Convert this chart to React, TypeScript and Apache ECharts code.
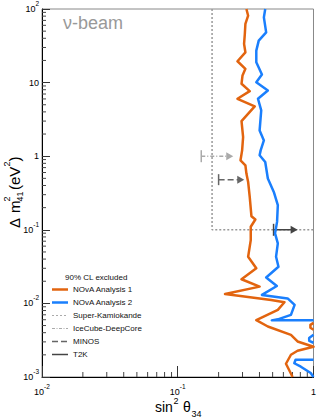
import React, { useEffect, useRef } from 'react';
import * as echarts from 'echarts';

const FONT = '"Liberation Sans", Arial, Helvetica, sans-serif';

// NOvA Analysis 1 (orange) contour, [sin^2 theta34, dm^2_41]
const novaAnalysis1 = [
  [0.3205, 100], [0.33, 81.1], [0.315, 62.6], [0.312, 45.8], [0.308, 33.6], [0.315, 25.8],
  [0.2755, 19.5], [0.315, 15.4], [0.3, 12.5], [0.295, 9.63], [0.339, 7.65], [0.2755, 6.03],
  [0.369, 4.75], [0.295, 3.0], [0.303, 1.82], [0.298, 1.2], [0.29, 0.88], [0.315, 0.753],
  [0.3205, 0.581], [0.33, 0.447], [0.339, 0.28], [0.349, 0.153], [0.373, 0.138], [0.345, 0.11],
  [0.345, 0.0725], [0.33, 0.0431], [0.379, 0.03], [0.295, 0.0213], [0.401, 0.0169],
  [0.223, 0.01345], [0.4875, 0.01115], [0.611, 0.01038], [0.546, 0.00817], [0.379, 0.00592],
  [0.461, 0.00485], [0.682, 0.00374], [0.763, 0.00304], [1.0, 0.002575], [0.763, 0.00227],
  [0.682, 0.002005], [0.627, 0.001514], [0.702, 0.001],
];
const novaAnalysis1Island = [[1.0, 0.00544], [0.949, 0.00511], [0.949, 0.00466], [1.0, 0.00438]];

// NOvA Analysis 2 (blue) contour
const novaAnalysis2 = [
  [0.441, 100], [0.431, 76.9], [0.448, 48.2], [0.395, 37.2], [0.379, 27.2], [0.379, 18.9],
  [0.417, 12.9], [0.379, 10.1], [0.461, 7.82], [0.39, 6.03], [0.412, 4.19], [0.401, 2.24],
  [0.431, 1.64], [0.408, 1.2], [0.401, 1.03], [0.441, 0.835], [0.461, 0.497], [0.51, 0.327],
  [0.546, 0.216], [0.539, 0.128], [0.521, 0.0894], [0.546, 0.0654], [0.53, 0.0431],
  [0.552, 0.0315], [0.448, 0.0225], [0.537, 0.01726], [0.417, 0.01304], [0.645, 0.01169],
  [0.726, 0.00954], [0.682, 0.00699], [0.546, 0.00607], [0.493, 0.00588], [1.0, 0.00588],
];
const novaAnalysis2Island = [[1.0, 0.00374], [0.929, 0.00338], [0.93, 0.0031], [1.0, 0.00292]];
const novaAnalysis2Low = [
  [1.0, 0.001716], [0.738, 0.001716], [0.722, 0.001538], [0.807, 0.00138], [0.954, 0.001133], [1.0, 0.001],
];

// Other experiments
const superK = [[0.179, 100], [0.179, 0.1], [1.0, 0.1]];
const t2k = [[0.508, 0.1], [0.72, 0.1]];
const minos = [[0.2, 0.48], [0.291, 0.48]];
const iceCube = [[0.149, 1.0], [0.2416, 1.0]];

// Axis structure
const decadesX = [0.01, 0.1];
const decadesY = [0.001, 0.01, 0.1, 1, 10];
const minorMultipliers = [2, 3, 4, 5, 6, 7, 8, 9];

const ORANGE = '#e2640f';
const BLUE = '#1a7ffd';

function expLabel(v: number) {
  const e = Math.round(Math.log10(v));
  if (e === 0) return '{b|1}';
  if (e === 1) return '{b|10}';
  return '{b|10}{e|' + e + '}';
}

const labelRich = {
  b: { fontSize: 9, fontFamily: FONT, color: '#000', lineHeight: 18 },
  e: { fontSize: 6.5, fontFamily: FONT, color: '#000', lineHeight: 8, verticalAlign: 'top' },
};

function arrowSeries(name: string, data: number[][], color: string, type: any, barH: number) {
  return {
    name,
    type: 'line',
    showSymbol: true,
    symbol: 'none',
    lineStyle: { color, width: 1.5, type },
    itemStyle: { color },
    z: 4,
    data: [
      { value: data[0], symbol: 'rect', symbolSize: [1.5, barH] },
      { value: data[1], symbol: 'triangle', symbolSize: [8, 7], symbolRotate: -90 },
    ],
  };
}

function minorTickSeries(values: number[], axis: 'x' | 'y', len: number) {
  return {
    type: 'custom',
    silent: true,
    z: 1,
    data: values.map((v) => (axis === 'x' ? [v, 0.001] : [0.01, v])),
    renderItem: (_p: any, api: any) => {
      const pt = api.coord([api.value(0), api.value(1)]);
      const shape =
        axis === 'x'
          ? { x1: pt[0], y1: pt[1], x2: pt[0], y2: pt[1] - len }
          : { x1: pt[0], y1: pt[1], x2: pt[0] + len, y2: pt[1] };
      return { type: 'line', shape, style: { stroke: '#444', lineWidth: 1 } };
    },
  };
}

const legendRows = [
  { label: 'NOvA Analysis 1', color: ORANGE, width: 2.5, dash: null },
  { label: 'NOvA Analysis 2', color: BLUE, width: 2.5, dash: null },
  { label: 'Super-Kamiokande', color: '#aaa', width: 1.2, dash: [2, 2] },
  { label: 'IceCube-DeepCore', color: '#aaa', width: 1.2, dash: [3, 1.5, 1, 1.5] },
  { label: 'MINOS', color: '#666', width: 1.5, dash: [6, 3] },
  { label: 'T2K', color: '#444', width: 1.5, dash: null },
];

export default function App() {
  const ref = useRef<HTMLDivElement>(null);
  useEffect(() => {
    const chart = echarts.init(ref.current!, null, { renderer: 'svg' });

    const minorX: number[] = [];
    decadesX.forEach((d) => minorMultipliers.forEach((m) => minorX.push(d * m)));
    const minorY: number[] = [];
    decadesY.forEach((d) => minorMultipliers.forEach((m) => minorY.push(d * m)));

    const legendGraphics: any[] = [
      {
        type: 'text', x: 65, y: 277,
        style: { text: '90% CL excluded', font: '8px ' + FONT, fill: '#111', verticalAlign: 'middle' },
      },
    ];
    legendRows.forEach((r, i) => {
      const y = 289.5 + i * 13;
      legendGraphics.push({
        type: 'line', shape: { x1: 52, y1: y, x2: 68, y2: y },
        style: { stroke: r.color, lineWidth: r.width, lineDash: r.dash || undefined },
      });
      legendGraphics.push({
        type: 'text', x: 73, y,
        style: { text: r.label, font: '8px ' + FONT, fill: '#111', verticalAlign: 'middle' },
      });
    });

    const option: any = {
      animation: false,
      backgroundColor: '#fff',
      grid: { left: 42, top: 8, width: 274, height: 369, show: true, borderColor: '#888', borderWidth: 1 },
      xAxis: {
        type: 'log', logBase: 10, min: 0.01, max: 1,
        axisLine: { show: true, lineStyle: { color: '#000', width: 1 } },
        axisTick: { show: true, inside: true, length: 11, lineStyle: { color: '#333' } },
        axisLabel: { margin: 6, formatter: expLabel, rich: labelRich },
        splitLine: { show: false },
      },
      yAxis: {
        type: 'log', logBase: 10, min: 0.001, max: 100,
        axisLine: { show: true, lineStyle: { color: '#000', width: 1 } },
        axisTick: { show: true, inside: true, length: 8, lineStyle: { color: '#333' } },
        axisLabel: { margin: 3, formatter: expLabel, rich: labelRich },
        splitLine: { show: false },
      },
      series: [
        minorTickSeries(minorX, 'x', 5),
        minorTickSeries(minorY, 'y', 4),
        {
          name: 'Super-Kamiokande', type: 'line', symbol: 'none', data: superK, z: 3,
          lineStyle: { color: '#999', width: 1.5, type: [2, 2] },
        },
        arrowSeries('IceCube-DeepCore', iceCube, '#aaa', [4, 2, 1, 2], 12),
        arrowSeries('MINOS', minos, '#666', [6, 3], 11),
        arrowSeries('T2K', t2k, '#444', 'solid', 12),
        ...[novaAnalysis1, novaAnalysis1Island].map((d) => ({
          name: 'NOvA Analysis 1', type: 'line', symbol: 'none', data: d, z: 5,
          lineStyle: { color: ORANGE, width: 2.5, join: 'round' },
        })),
        ...[novaAnalysis2, novaAnalysis2Island, novaAnalysis2Low].map((d) => ({
          name: 'NOvA Analysis 2', type: 'line', symbol: 'none', data: d, z: 5,
          lineStyle: { color: BLUE, width: 2.5, join: 'round' },
        })),
      ],
      graphic: [
        {
          type: 'text', x: 63, y: 23,
          style: { text: 'ν-beam', font: '18px ' + FONT, fill: '#999', verticalAlign: 'middle' },
        },
        ...legendGraphics,
        // x axis title
        { type: 'text', x: 155, y: 407, style: { text: 'sin', font: '14px ' + FONT, fill: '#000', verticalAlign: 'middle' } },
        { type: 'text', x: 173.5, y: 401, style: { text: '2', font: '9px ' + FONT, fill: '#000', verticalAlign: 'middle' } },
        { type: 'text', x: 183, y: 407, style: { text: 'θ', font: '14px ' + FONT, fill: '#000', verticalAlign: 'middle' } },
        { type: 'text', x: 191.5, y: 413.5, style: { text: '34', font: '9px ' + FONT, fill: '#000', verticalAlign: 'middle' } },
        // y axis title
        {
          type: 'group', x: 14, y: 192, rotation: Math.PI / 2,
          children: [
            { type: 'text', x: -36, y: 0.75, style: { text: 'Δ', font: '15px ' + FONT, fill: '#000', verticalAlign: 'middle' } },
            { type: 'text', x: -21, y: 0.75, style: { text: 'm', font: '15px ' + FONT, fill: '#000', verticalAlign: 'middle' } },
            { type: 'text', x: -9.5, y: -6.6, style: { text: '2', font: '9px ' + FONT, fill: '#000', verticalAlign: 'middle' } },
            { type: 'text', x: -9.5, y: 5.5, style: { text: '41', font: '9px ' + FONT, fill: '#000', verticalAlign: 'middle' } },
            { type: 'text', x: 2, y: 0.75, style: { text: '(eV', font: '15px ' + FONT, fill: '#000', verticalAlign: 'middle' } },
            { type: 'text', x: 25.5, y: -6.6, style: { text: '2', font: '9px ' + FONT, fill: '#000', verticalAlign: 'middle' } },
            { type: 'text', x: 30.5, y: 0.75, style: { text: ')', font: '15px ' + FONT, fill: '#000', verticalAlign: 'middle' } },
          ],
        },
      ],
    };
    chart.setOption(option);
    return () => chart.dispose();
  }, []);
  return <div ref={ref} style={{ position: 'fixed', left: 0, top: 0, width: 319, height: 420 }} />;
}
